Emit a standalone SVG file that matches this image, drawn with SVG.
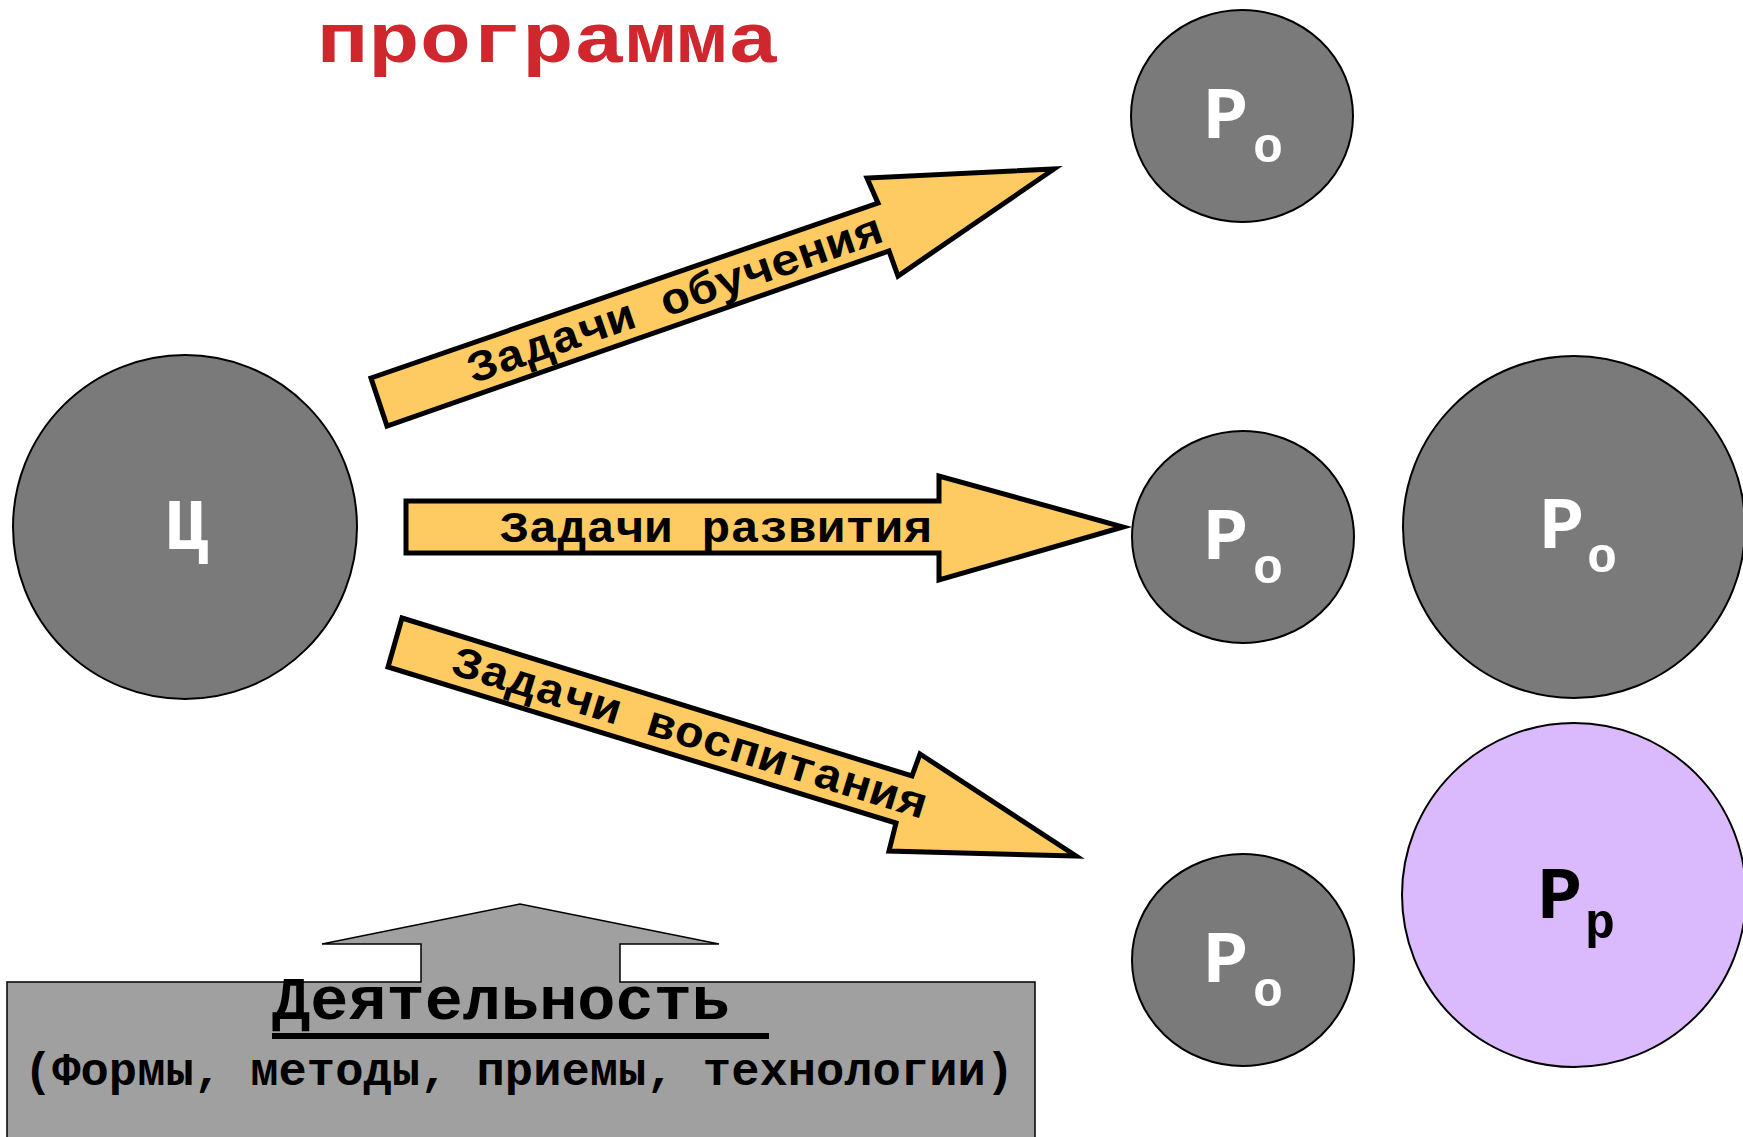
<svg xmlns="http://www.w3.org/2000/svg" width="1743" height="1137" viewBox="0 0 1743 1137">
<style>
.mono{font-family:"Liberation Mono","DejaVu Sans Mono",monospace;font-weight:bold}
.node{fill:#7a7a7a;stroke:#000;stroke-width:2}
.pink{fill:#dab9fd;stroke:#000;stroke-width:2}
.wt{fill:#fff}
.bk{fill:#000}
.arrow{fill:#fecb63;stroke:#000;stroke-width:5;stroke-linejoin:miter}
.act{fill:#a0a0a0;stroke:#000;stroke-width:1.5}
</style>
<rect width="1743" height="1137" fill="#fff"/>
<text id="title" class="mono" x="548" y="62" font-size="70" fill="#d0272f" text-anchor="middle" textLength="462" lengthAdjust="spacingAndGlyphs">программа</text>

<g id="activity">
<path class="act" d="M7,982 L421,982 L421,944 L322,944 L520,904 L719,944 L620,944 L620,982 L1035,982 L1035,1142 L7,1142 Z"/>
<text class="mono bk" x="272" y="1019" font-size="62" textLength="458" lengthAdjust="spacingAndGlyphs">Деятельность</text>
<rect x="272" y="1033" width="497" height="6" fill="#000"/>
<text class="mono bk" x="519" y="1085" font-size="46" text-anchor="middle" textLength="990" lengthAdjust="spacingAndGlyphs">(Формы, методы, приемы, технологии)</text>
</g>

<g id="connectors">
<g id="arrow-obuchenie">
<polygon class="arrow" points="371,378 878,203 867,178 1054,169 898,276 889,251 387,426"/>
<text class="mono bk" font-size="44" text-anchor="middle" transform="translate(675,299) rotate(-19.1)" x="0" y="14" textLength="436" lengthAdjust="spacingAndGlyphs">Задачи обучения</text>
</g>
<g id="arrow-razvitie">
<polygon class="arrow" points="406,501 939,501 939,476 1123,527 939,580 939,553 406,553"/>
<text class="mono bk" font-size="44" text-anchor="middle" x="716" y="542" textLength="432" lengthAdjust="spacingAndGlyphs">Задачи развития</text>
</g>
<g id="arrow-vospitanie">
<polygon class="arrow" points="402,618 912,776 920,754 1076,856 889,851 896,823 388,667"/>
<text class="mono bk" font-size="44" text-anchor="middle" transform="translate(690,733) rotate(17.1)" x="0" y="14" textLength="494" lengthAdjust="spacingAndGlyphs">Задачи воспитания</text>
</g>
</g>

<g id="node-c">
<circle class="node" cx="185" cy="527" r="172"/>
<text class="mono wt" x="186" y="549" font-size="72" text-anchor="middle">Ц</text>
</g>

<g id="node-ro-top">
<ellipse class="node" cx="1242" cy="116" rx="111" ry="106"/>
<text class="mono wt" font-size="74" text-anchor="middle"><tspan x="1226" y="138">Р</tspan><tspan x="1268" y="162" font-size="50">о</tspan></text>
</g>

<g id="node-ro-mid">
<ellipse class="node" cx="1243" cy="537" rx="111" ry="106"/>
<text class="mono wt" font-size="74" text-anchor="middle"><tspan x="1226" y="559">Р</tspan><tspan x="1268" y="583" font-size="50">о</tspan></text>
</g>

<g id="node-ro-bot">
<ellipse class="node" cx="1243" cy="960" rx="111" ry="106"/>
<text class="mono wt" font-size="74" text-anchor="middle"><tspan x="1226" y="982">Р</tspan><tspan x="1268" y="1006" font-size="50">о</tspan></text>
</g>

<g id="node-ro-big">
<circle class="node" cx="1574" cy="527" r="171"/>
<text class="mono wt" font-size="74" text-anchor="middle"><tspan x="1562" y="548">Р</tspan><tspan x="1602" y="572" font-size="50">о</tspan></text>
</g>

<g id="node-rp">
<circle class="pink" cx="1574" cy="895" r="172"/>
<text class="mono bk" font-size="74" text-anchor="middle"><tspan x="1560" y="918">Р</tspan><tspan x="1600" y="938" font-size="50">р</tspan></text>
</g>
</svg>
